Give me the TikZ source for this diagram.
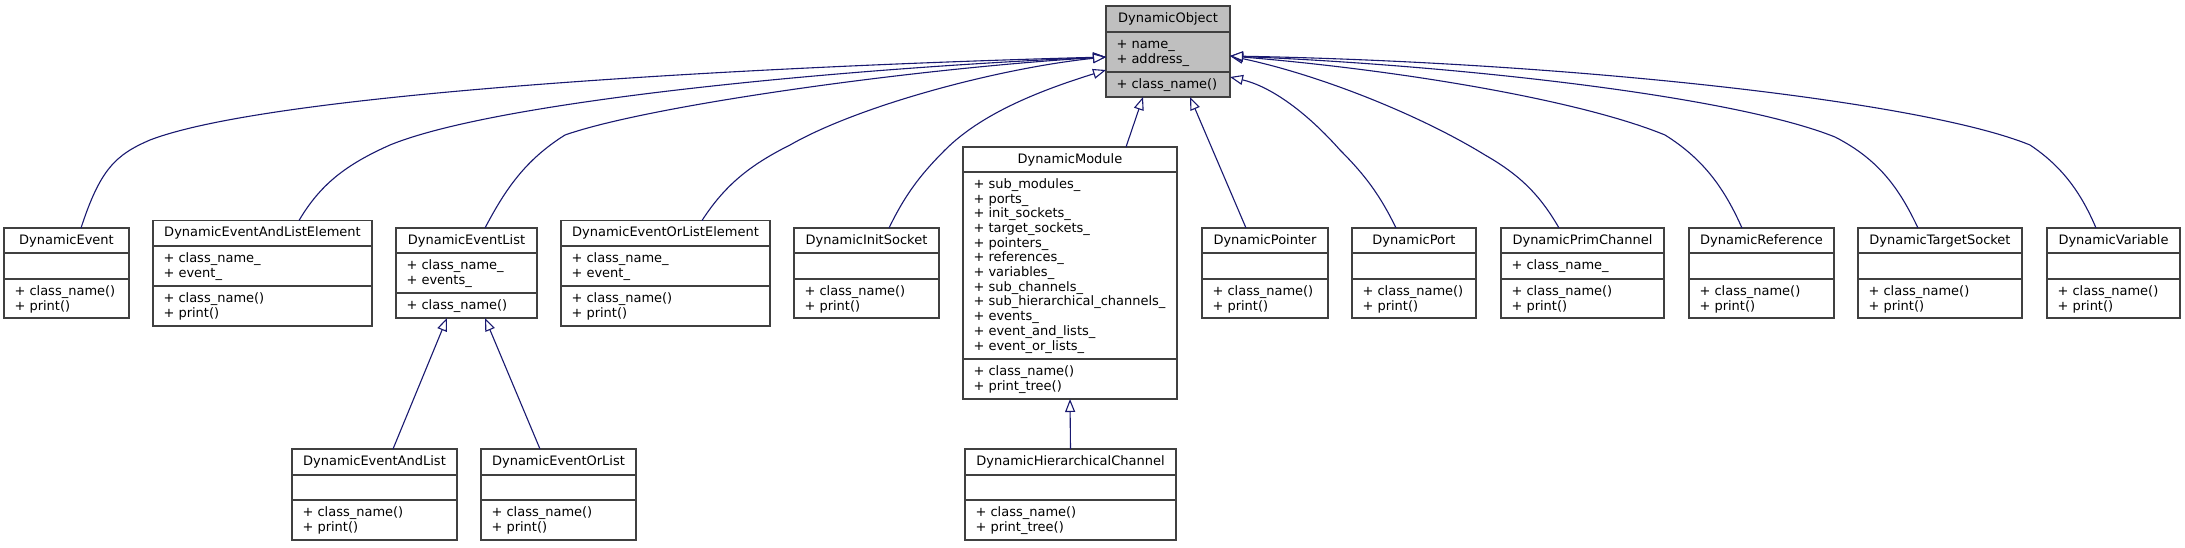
\documentclass[tikz,border=0pt]{standalone}
\usepackage{fontspec}
\setmainfont{DejaVu Sans}
\usetikzlibrary{arrows.meta}
\definecolor{boxgray}{HTML}{404040}
\definecolor{edgeblue}{HTML}{191970}
\definecolor{objfill}{HTML}{BFBFBF}
\tikzset{
  classbox/.style={draw=boxgray, line width=1.4pt, inner sep=0pt, outer sep=0pt},
  divline/.style={draw=boxgray, line width=1.4pt},
  txt/.style={inner sep=0pt, outer sep=0pt, text=black, font=\fontsize{13}{14.7}\selectfont},
  inh/.style={draw=edgeblue, line width=1.1pt, -{Triangle[fill=white, length=13pt, width=10pt]}},
}
% name, xl, xr, top, d1, d2, bottom, title, fill
\newcommand\umlclass[9]{%
  \node[classbox, fill=#9, minimum width={(#3)-(#2)}, minimum height={(#7)-(#4)}] (#1) at ({((#2)+(#3))/2},{((#4)+(#7))/2}) {};
  \draw[divline] (#2,#5) -- (#3,#5) (#2,#6) -- (#3,#6);
  \node[txt, anchor=base] (#1-title) at ({((#2)+(#3))/2},{(#4)+16.4}) {#8};
  \coordinate (#1-a) at ({(#2)+10.5},{(#5)+16.3});
  \coordinate (#1-m) at ({(#2)+10.5},{(#6)+16.3});
}
\newcommand\umllines[2]{%
  \foreach \t [count=\i from 0] in {#2} {\node[txt, anchor=base west] (#1-\i) at ([yshift={-\i*14.7pt}]#1) {\t};}%
}
\begin{document}
\begin{tikzpicture}[x=1pt, y=-1pt]
\fill[white] (0,0) rectangle (2185,547);
\useasboundingbox (0,0) rectangle (2185,547);

\umlclass{obj}{1106}{1230}{6}{32}{72}{97}{DynamicObject}{objfill}
\umllines{obj-a}{+ name\_, + address\_}
\umllines{obj-m}{+ class\_name()}

\umlclass{ev}{4}{129}{228}{253}{279}{318}{DynamicEvent}{white}
\umllines{ev-m}{+ class\_name(), + print()}

\umlclass{eale}{153}{372}{220.5}{246}{286}{326}{DynamicEventAndListElement}{white}
\umllines{eale-a}{+ class\_name\_, + event\_}
\umllines{eale-m}{+ class\_name(), + print()}

\umlclass{el}{396}{537}{228}{253}{293}{318}{DynamicEventList}{white}
\umllines{el-a}{+ class\_name\_, + events\_}
\umllines{el-m}{+ class\_name()}

\umlclass{eole}{561}{770}{220.5}{246}{286}{326}{DynamicEventOrListElement}{white}
\umllines{eole-a}{+ class\_name\_, + event\_}
\umllines{eole-m}{+ class\_name(), + print()}

\umlclass{is}{794}{939}{228}{253}{279}{318}{DynamicInitSocket}{white}
\umllines{is-m}{+ class\_name(), + print()}

\umlclass{mod}{963}{1177}{147}{172}{359}{399}{DynamicModule}{white}
\umllines{mod-a}{+ sub\_modules\_, + ports\_, + init\_sockets\_, + target\_sockets\_, + pointers\_, + references\_, + variables\_, + sub\_channels\_, + sub\_hierarchical\_channels\_, + events\_, + event\_and\_lists\_, + event\_or\_lists\_}
\umllines{mod-m}{+ class\_name(), + print\_tree()}

\umlclass{ptr}{1202}{1328}{228}{253}{279}{318}{DynamicPointer}{white}
\umllines{ptr-m}{+ class\_name(), + print()}

\umlclass{port}{1352}{1476}{228}{253}{279}{318}{DynamicPort}{white}
\umllines{port-m}{+ class\_name(), + print()}

\umlclass{prim}{1501}{1664}{228}{253}{279}{318}{DynamicPrimChannel}{white}
\umllines{prim-a}{+ class\_name\_}
\umllines{prim-m}{+ class\_name(), + print()}

\umlclass{ref}{1689}{1834}{228}{253}{279}{318}{DynamicReference}{white}
\umllines{ref-m}{+ class\_name(), + print()}

\umlclass{ts}{1858}{2022}{228}{253}{279}{318}{DynamicTargetSocket}{white}
\umllines{ts-m}{+ class\_name(), + print()}

\umlclass{var}{2047}{2180}{228}{253}{279}{318}{DynamicVariable}{white}
\umllines{var-m}{+ class\_name(), + print()}

\umlclass{eal}{292}{457}{449}{475}{500}{540}{DynamicEventAndList}{white}
\umllines{eal-m}{+ class\_name(), + print()}

\umlclass{eol}{481}{636}{449}{475}{500}{540}{DynamicEventOrList}{white}
\umllines{eol-m}{+ class\_name(), + print()}

\umlclass{hc}{965}{1176}{449}{475}{500}{540}{DynamicHierarchicalChannel}{white}
\umllines{hc-m}{+ class\_name(), + print\_tree()}

% attachment points on DynamicObject
\coordinate (oL1) at ([yshift=-5.5pt]obj.west);
\coordinate (oL2) at ([yshift=-18.5pt]obj.west);
\coordinate (oB1) at ([xshift=-25pt]obj.south);
\coordinate (oB2) at ([xshift=22pt]obj.south);
\coordinate (oR1) at ([yshift=-4.5pt]obj.east);
\coordinate (oR2) at ([yshift=-25.5pt]obj.east);

% inheritance edges
\draw[inh] ([xshift=14.5pt]ev.north) .. controls (100,170) and (115,155) .. (150,140)
  .. controls (280,90) and (800,65) .. (oL1);
\draw[inh] ([xshift=36.5pt]eale.north) .. controls (320,185) and (345,165) .. (390,145)
  .. controls (500,100) and (850,68) .. (oL1);
\draw[inh] ([xshift=18.5pt]el.north) .. controls (505,190) and (525,160) .. (565,135)
  .. controls (650,105) and (920,68) .. (oL1);
\draw[inh] ([xshift=36.5pt]eole.north) .. controls (725,185) and (750,165) .. (790,145)
  .. controls (860,105) and (1000,68) .. (oL1);
\draw[inh] ([xshift=22.5pt]is.north) .. controls (905,195) and (920,175) .. (945,150)
  .. controls (980,115) and (1035,92) .. (oL2);
\draw[inh] ([xshift=56pt]mod.north) -- (oB1);
\draw[inh] ([xshift=-19pt]ptr.north) -- (oB2);
\draw[inh] ([xshift=-18pt]port.north) .. controls (1380,195) and (1365,175) .. (1340,150)
  .. controls (1300,105) and (1265,85) .. (oR2);
\draw[inh] ([xshift=-23.5pt]prim.north) .. controls (1540,195) and (1520,175) .. (1485,155)
  .. controls (1420,115) and (1320,75) .. (oR1);
\draw[inh] ([xshift=-19.5pt]ref.north) .. controls (1725,190) and (1705,160) .. (1665,135)
  .. controls (1580,100) and (1400,70) .. (oR1);
\draw[inh] ([xshift=-22pt]ts.north) .. controls (1900,190) and (1880,160) .. (1835,137)
  .. controls (1730,95) and (1450,65) .. (oR1);
\draw[inh] ([xshift=-17.5pt]var.north) .. controls (2080,190) and (2060,165) .. (2030,145)
  .. controls (1920,100) and (1560,62) .. (oR1);
\draw[inh] ([xshift=18.5pt]eal.north) -- ([xshift=-19.5pt]el.south);
\draw[inh] ([xshift=-18.5pt]eol.north) -- ([xshift=18.5pt]el.south);
\draw[inh] (hc.north) -- (mod.south);
\end{tikzpicture}
\end{document}
